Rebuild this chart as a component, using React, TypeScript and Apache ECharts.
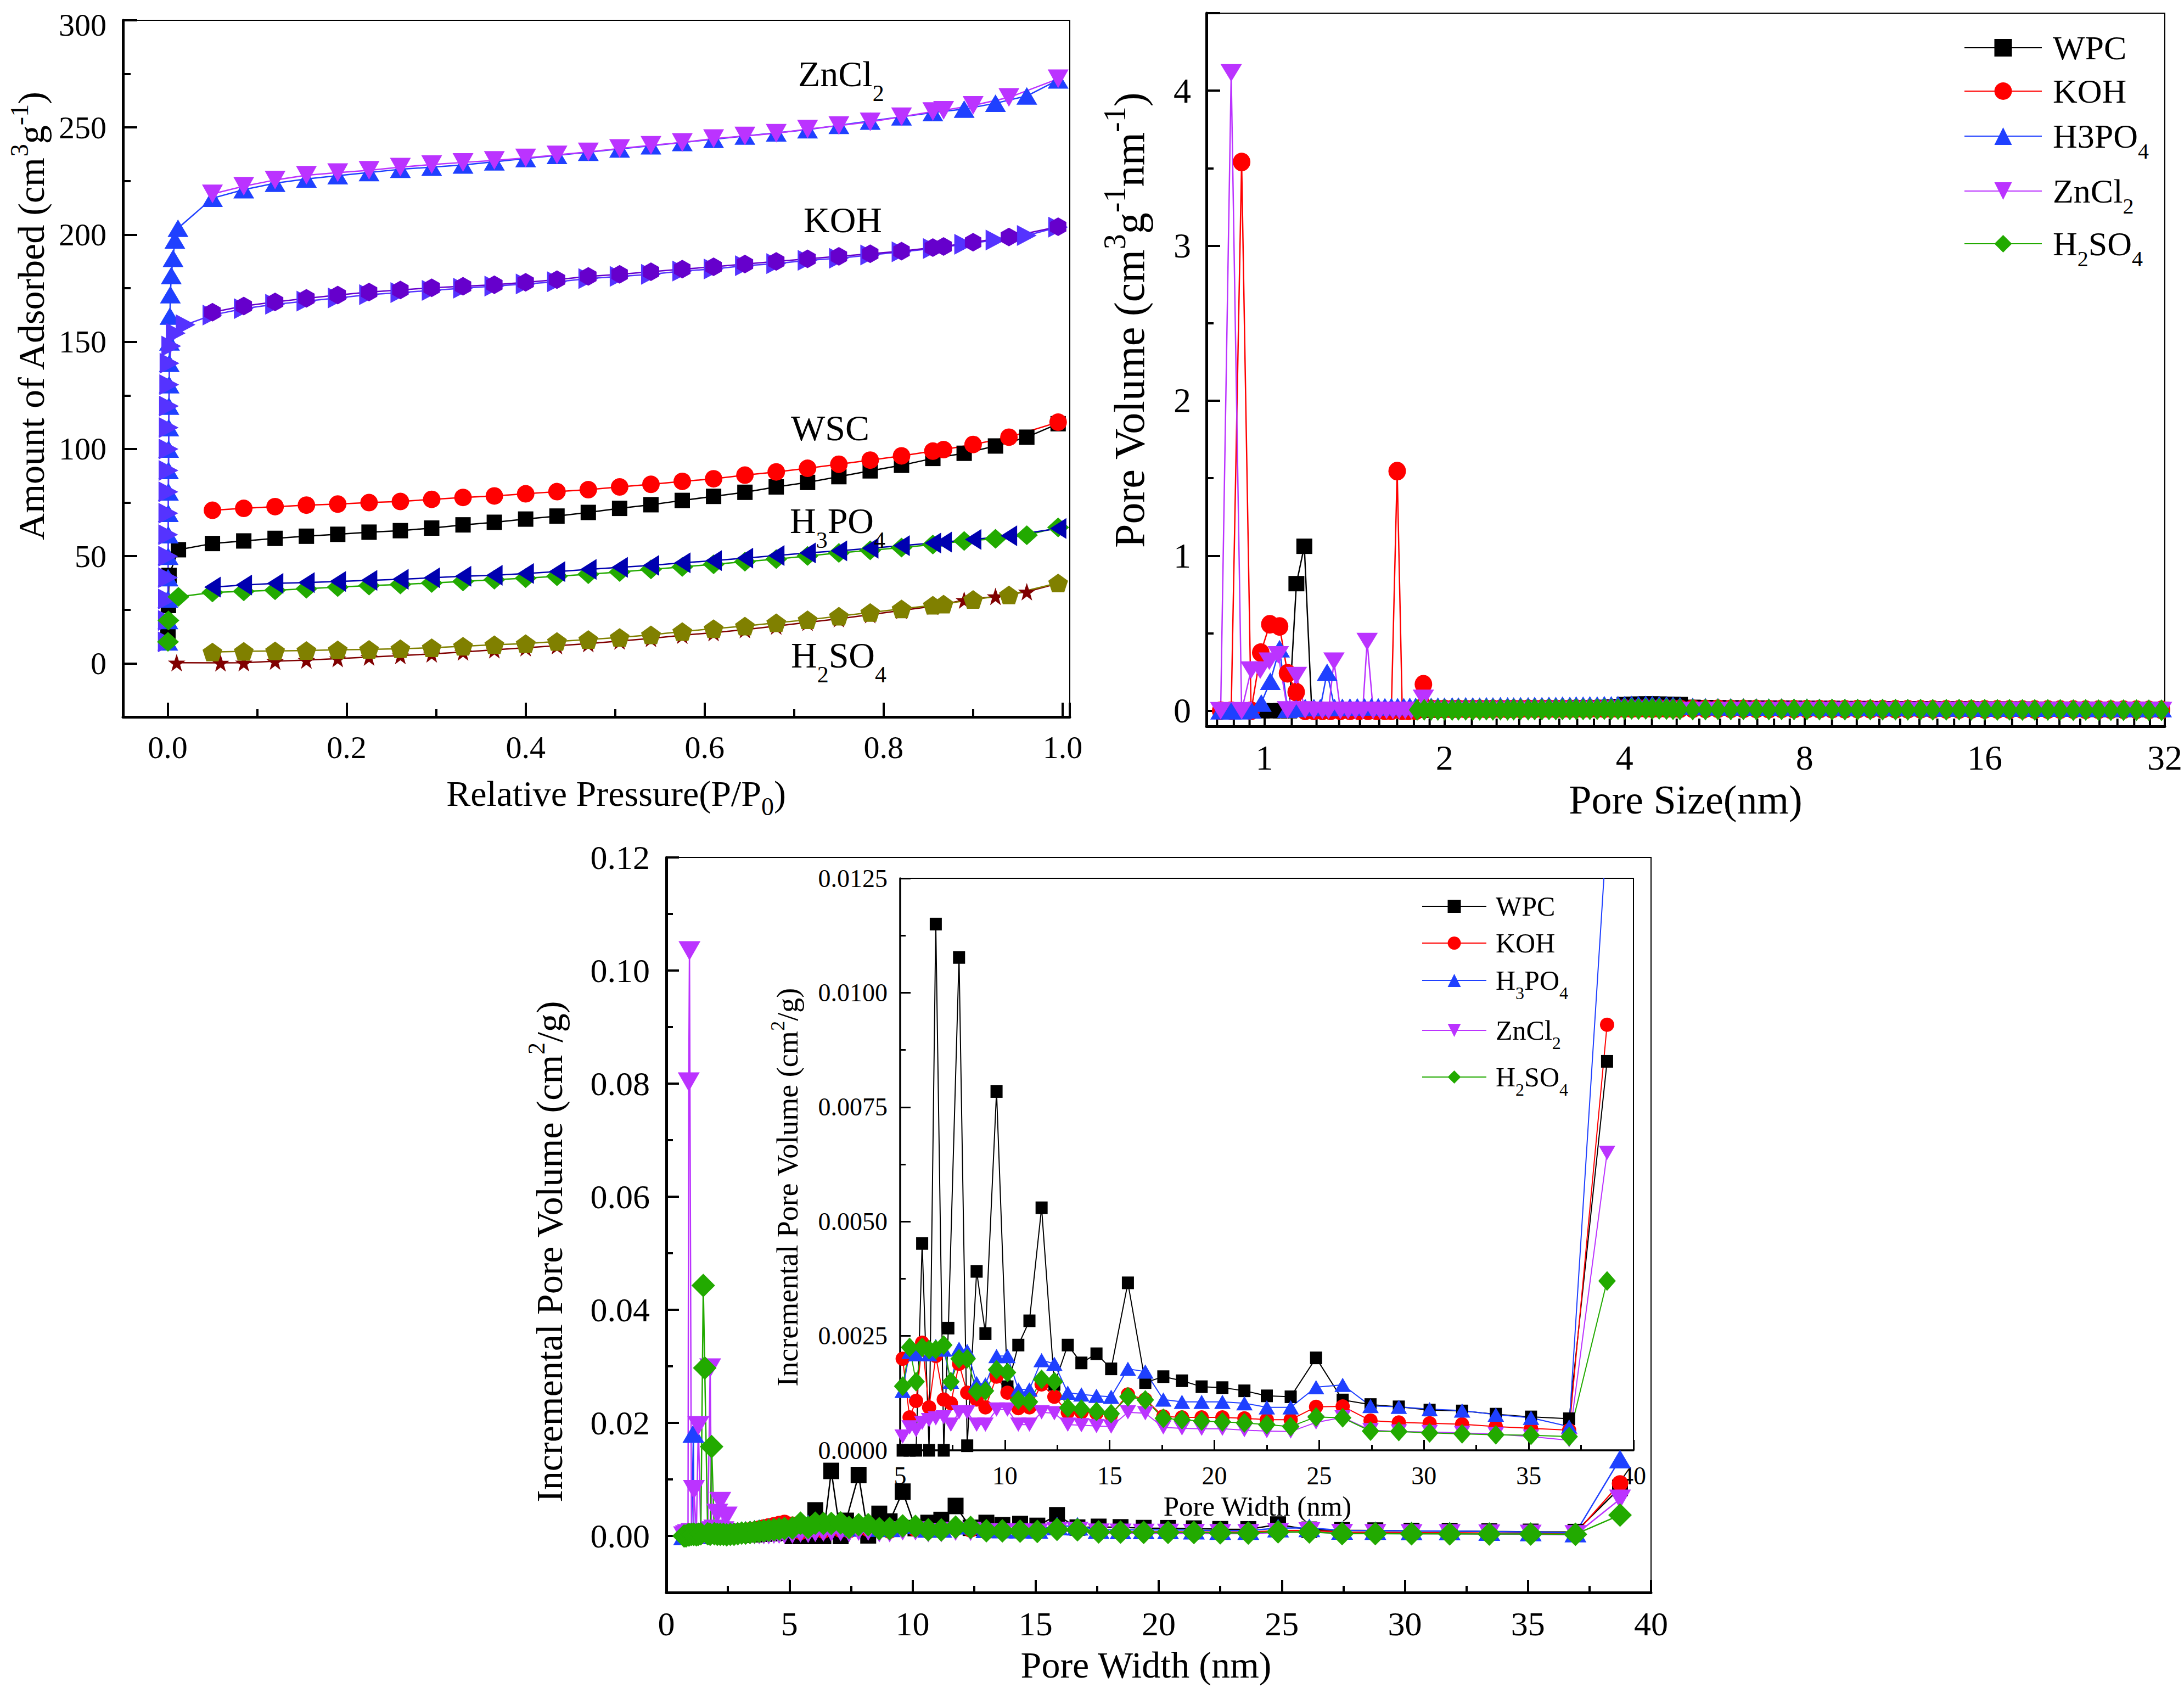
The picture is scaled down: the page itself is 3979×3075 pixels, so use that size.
import React, { useEffect, useRef } from "react";
import * as echarts from "echarts";

const FONT = '"Liberation Serif", "Times New Roman", Times, serif';

// ================= Panel 1 : N2 isotherms =================
const P_ADS = [0.05, 0.085, 0.12, 0.155, 0.19, 0.225, 0.26, 0.295, 0.33, 0.365, 0.40, 0.435, 0.47, 0.505, 0.54, 0.575, 0.61, 0.645, 0.68, 0.715, 0.75, 0.785, 0.82, 0.855, 0.89, 0.925, 0.96, 0.995];
const P_DES = [0.05, 0.085, 0.12, 0.155, 0.19, 0.225, 0.26, 0.295, 0.33, 0.365, 0.40, 0.435, 0.47, 0.505, 0.54, 0.575, 0.61, 0.645, 0.68, 0.715, 0.75, 0.785, 0.82, 0.855, 0.867, 0.90, 0.94, 0.995];
const P_STAR = [0.01, 0.059, 0.085, 0.12, 0.155, 0.19, 0.225, 0.26, 0.295, 0.33, 0.365, 0.40, 0.435, 0.47, 0.505, 0.54, 0.575, 0.61, 0.645, 0.68, 0.715, 0.75, 0.785, 0.82, 0.855, 0.89, 0.925, 0.96, 0.995];

const ZN_LOW_P = [0.0001, 0.0002, 0.0003, 0.0004, 0.0005, 0.0006, 0.0007, 0.0008, 0.0009, 0.001, 0.0012, 0.0014, 0.0016, 0.0018, 0.002, 0.0025, 0.003, 0.004, 0.006, 0.008, 0.0115];
const ZN_LOW_V = [10, 20, 30, 40, 50, 60, 70, 80, 90, 100, 110, 120, 130, 140, 150, 162, 172, 181, 189, 197.5, 203];
const KOH_LOW_P = [0.0001, 0.0002, 0.0003, 0.0004, 0.0005, 0.0006, 0.0007, 0.0008, 0.0009, 0.001, 0.0012, 0.0014, 0.0017, 0.002, 0.004, 0.009, 0.02];
const KOH_LOW_V = [10, 20, 30, 40, 50, 60, 70, 80, 90, 100, 110, 120, 130, 140, 148, 154, 158];
const WSC_LOW_P = [0.0003, 0.0008, 0.0015, 0.012];
const WSC_LOW_V = [14, 27, 41, 53];
const H3_LOW_P = [0.0003, 0.0008, 0.012];
const H3_LOW_V = [10, 20, 31];

const ZN_ADS = [217, 221, 224, 226, 227.5, 229, 230.5, 231.5, 232.5, 234, 235.5, 237, 238.5, 240, 241.5, 243, 244.5, 246, 247.5, 249, 251, 253, 255, 257, 258.6, 261.3, 264.7, 272.2];
const ZN_DES = [219, 222.6, 225.5, 227.7, 228.9, 230, 231.5, 232.7, 233.7, 234.6, 235.8, 237.2, 238.6, 240.2, 241.7, 243, 244.8, 246, 247.3, 249.2, 250.9, 252.6, 255, 257.4, 258, 260.3, 264, 272.7];
const KOH_ADS = [162.5, 165.5, 167.5, 169, 170.5, 172, 173, 174, 175, 176, 177, 178, 179.5, 180.5, 181.5, 183, 184, 185.5, 186.5, 188, 189, 190.5, 192, 193.5, 195.5, 197.5, 199.6, 203.5];
const KOH_DES = [163.8, 166.7, 168.6, 170.3, 171.8, 173.2, 174.2, 175.2, 175.9, 176.6, 177.8, 179, 180.5, 181.5, 182.7, 183.9, 185, 186.3, 187.5, 188.7, 189.9, 191.1, 192.3, 194, 194.5, 196.5, 198.9, 203.7];
const WSC_ADS = [55.9, 57.1, 58.3, 59.3, 60.2, 61.2, 61.9, 63.1, 64.6, 65.8, 67.3, 68.7, 70.4, 72.3, 74, 76, 77.9, 79.8, 82.3, 84.4, 87.1, 89.8, 92.4, 95.6, 98, 101.4, 105.5, 111.8];
const WSC_DES = [71.4, 72.3, 73.1, 73.8, 74.3, 75, 75.5, 76.5, 77.4, 78.1, 79.1, 80.1, 81, 82.3, 83.5, 84.9, 86.1, 87.8, 89.3, 91, 92.9, 94.8, 96.8, 99, 99.7, 102.1, 105.5, 112.5];
const H3_ADS = [33.1, 33.6, 34.1, 34.8, 35.6, 36.3, 36.8, 37.5, 38.2, 39, 39.7, 40.6, 41.6, 42.6, 43.8, 45, 46.2, 47.4, 48.6, 50.1, 51.5, 52.7, 54, 55.4, 57.1, 58.1, 59.8, 63.4];
const H3_DES = [35.6, 36.5, 37.3, 37.7, 38.2, 38.7, 39.2, 39.9, 40.6, 41.1, 41.9, 42.8, 43.8, 44.8, 45.7, 46.9, 47.9, 49.1, 50.3, 51.5, 52.5, 53.7, 54.9, 56.1, 56.6, 57.8, 59.5, 62.9];
const H2_ADS = [0.3, 0.2, 0.3, 1, 1.5, 2.2, 2.9, 3.6, 4.4, 5.3, 6.3, 7.3, 8.2, 9.2, 10.4, 11.6, 13.1, 14.3, 15.7, 17.4, 19.1, 20.8, 22.7, 24.7, 26.6, 29.5, 31.2, 33.4, 37.3];
const H2_DES = [5.3, 5.6, 5.8, 6, 6.3, 6.5, 6.8, 7.3, 8, 8.7, 9.2, 10.2, 11.1, 12.1, 13.3, 14.8, 16.2, 17.4, 18.9, 20.3, 22, 23.7, 25.4, 27.1, 27.6, 29.8, 31.9, 37.5];

// ================= Panel 2 : pore size distribution (log2 x) =================
const P2_TICKS = [1, 2, 4, 8, 16, 32];
const PS_TAIL = [1.90, 1.95, 2.00, 2.06, 2.11, 2.17, 2.23, 2.29, 2.35, 2.41, 2.48, 2.55, 2.61, 2.68, 2.76, 2.83, 2.91, 2.99, 3.07, 3.15, 3.24, 3.32, 3.41, 3.50, 3.60, 3.70, 3.80, 3.90, 4.00, 4.11, 4.22, 4.34, 4.45, 4.57, 4.70, 4.82, 4.95,
  5.2, 5.46, 5.73, 6.02, 6.32, 6.64, 6.97, 7.32, 7.68, 8.07, 8.47, 8.89, 9.34, 9.81, 10.3, 10.8, 11.35, 11.9, 12.5, 13.1, 13.8, 14.5, 15.2, 16.0, 16.8, 17.6, 18.5, 19.4, 20.4, 21.4, 22.5, 23.6, 24.8, 26.0, 27.3, 28.7, 30.1, 31.6];

const WPC_P2_X = [0.99, 1.03, 1.065, 1.10, 1.131, 1.166, 1.20, 1.24, 1.28, 1.33, 1.38, 1.43, 1.48, 1.54, 1.60, 1.66, 1.72, 1.78, 1.84];
const WPC_P2_Y = [0, 0, 0, 0, 0.82, 1.061, 0, 0.002, 0.002, 0.002, 0.003, 0.003, 0.003, 0.003, 0.004, 0.004, 0.004, 0.004, 0.004];
const KOH_P2_X = [0.845, 0.88, 0.916, 0.95, 0.986, 1.021, 1.06, 1.093, 1.13, 1.17, 1.21, 1.25, 1.29, 1.34, 1.39, 1.44, 1.49, 1.54, 1.59, 1.63, 1.667, 1.70, 1.74, 1.79, 1.844];
const KOH_P2_Y = [0, 0, 3.54, 0, 0.375, 0.558, 0.544, 0.242, 0.12, 0, 0, 0, 0, 0, 0, 0, 0, 0, 0, 0, 1.546, 0, 0, 0, 0.171];
const H3_P2_X = [0.845, 0.88, 0.916, 0.95, 0.988, 1.023, 1.06, 1.093, 1.13, 1.17, 1.21, 1.24, 1.273, 1.31, 1.35, 1.39, 1.43, 1.47, 1.51, 1.55, 1.59, 1.63, 1.67, 1.71, 1.75, 1.79, 1.84];
const H3_P2_Y = [0, 0, 0, 0.005, 0.05, 0.19, 0.40, 0.01, 0.015, 0.02, 0.02, 0.02, 0.248, 0.02, 0.022, 0.024, 0.025, 0.025, 0.026, 0.026, 0.026, 0.027, 0.027, 0.027, 0.028, 0.028, 0.028];
const ZN_P2_X = [0.845, 0.88, 0.916, 0.95, 0.984, 1.019, 1.055, 1.093, 1.131, 1.17, 1.21, 1.25, 1.28, 1.307, 1.34, 1.38, 1.42, 1.46, 1.485, 1.52, 1.56, 1.60, 1.64, 1.68, 1.72, 1.76, 1.80, 1.844];
const ZN_P2_Y = [0, 4.115, 0, 0.262, 0.262, 0.32, 0.36, 0.005, 0.227, 0.005, 0.002, 0.002, 0.002, 0.32, 0.002, 0.002, 0.002, 0.002, 0.446, 0.002, 0.002, 0.002, 0.002, 0.002, 0.002, 0.002, 0.002, 0.08];
const H2_P2_X = [1.80, 1.85];
const H2_P2_Y = [0.005, 0.006];

const WPC_TAIL = [0.004, 0.005, 0.005, 0.006, 0.006, 0.007, 0.007, 0.008, 0.008, 0.009, 0.009, 0.01, 0.01, 0.011, 0.011, 0.012, 0.012, 0.013, 0.014, 0.015, 0.016, 0.017, 0.018, 0.019, 0.02, 0.022, 0.024, 0.027, 0.04, 0.042, 0.043, 0.044, 0.044, 0.043, 0.042, 0.041, 0.04,
  0.022, 0.02, 0.019, 0.018, 0.018, 0.017, 0.017, 0.016, 0.016, 0.015, 0.015, 0.015, 0.014, 0.014, 0.014, 0.013, 0.013, 0.013, 0.013, 0.012, 0.012, 0.012, 0.012, 0.011, 0.011, 0.011, 0.011, 0.01, 0.01, 0.01, 0.01, 0.01, 0.009, 0.009, 0.009, 0.009, 0.008, 0.008];
const KOH_TAIL = [0.012, 0.011, 0.012, 0.011, 0.012, 0.011, 0.012, 0.012, 0.011, 0.012, 0.012, 0.011, 0.012, 0.012, 0.013, 0.012, 0.013, 0.013, 0.012, 0.013, 0.013, 0.014, 0.013, 0.014, 0.014, 0.013, 0.014, 0.014, 0.015, 0.014, 0.015, 0.015, 0.014, 0.015, 0.014, 0.014, 0.013,
  0.013, 0.012, 0.013, 0.012, 0.012, 0.012, 0.011, 0.012, 0.011, 0.011, 0.011, 0.011, 0.01, 0.011, 0.01, 0.01, 0.01, 0.01, 0.01, 0.009, 0.009, 0.009, 0.009, 0.009, 0.009, 0.008, 0.008, 0.008, 0.008, 0.008, 0.008, 0.007, 0.007, 0.007, 0.007, 0.007, 0.006, 0.006];
const H3_TAIL = [0.028, 0.03, 0.029, 0.031, 0.03, 0.032, 0.031, 0.03, 0.032, 0.031, 0.033, 0.032, 0.031, 0.033, 0.032, 0.034, 0.033, 0.035, 0.034, 0.036, 0.035, 0.037, 0.036, 0.038, 0.037, 0.039, 0.038, 0.04, 0.039, 0.041, 0.04, 0.042, 0.041, 0.04, 0.038, 0.036, 0.033,
  0.028, 0.027, 0.026, 0.026, 0.025, 0.025, 0.024, 0.024, 0.023, 0.023, 0.022, 0.022, 0.022, 0.021, 0.021, 0.021, 0.02, 0.02, 0.02, 0.019, 0.019, 0.019, 0.019, 0.018, 0.018, 0.018, 0.018, 0.017, 0.017, 0.017, 0.017, 0.016, 0.016, 0.016, 0.015, 0.015, 0.015, 0.014];
const ZN_TAIL = [0.002, 0.001, 0.002, 0.001, 0.001, 0.002, 0.001, 0.001, 0.001, 0.002, 0.001, 0.001, 0.002, 0.001, 0.001, 0.001, 0.002, 0.001, 0.001, 0.001, 0.001, 0.002, 0.001, 0.001, 0.001, 0.001, 0.002, 0.001, 0.001, 0.001, 0.001, 0.001, 0.001, 0.001, 0.001, 0.001, 0.001,
  0.001, 0.002, 0.001, 0.001, 0.002, 0.001, 0.001, 0.001, 0.002, 0.001, 0.001, 0.001, 0.002, 0.001, 0.001, 0.001, 0.001, 0.002, 0.001, 0.001, 0.001, 0.001, 0.001, 0.001, 0.002, 0.001, 0.001, 0.001, 0.001, 0.001, 0.001, 0.001, 0.001, 0.001, 0.001, 0.001, 0.001, 0.001];
const H2_TAIL = [0.006, 0.005, 0.006, 0.005, 0.006, 0.006, 0.005, 0.006, 0.007, 0.006, 0.007, 0.006, 0.007, 0.008, 0.007, 0.008, 0.008, 0.009, 0.008, 0.009, 0.009, 0.010, 0.009, 0.010, 0.010, 0.011, 0.010, 0.011, 0.011, 0.012, 0.011, 0.012, 0.012, 0.012, 0.011, 0.010, 0.009,
  0.008, 0.008, 0.009, 0.008, 0.009, 0.008, 0.008, 0.009, 0.008, 0.008, 0.007, 0.008, 0.007, 0.007, 0.008, 0.007, 0.007, 0.006, 0.007, 0.006, 0.006, 0.007, 0.006, 0.006, 0.005, 0.006, 0.005, 0.005, 0.005, 0.005, 0.004, 0.005, 0.004, 0.004, 0.004, 0.004, 0.003, 0.003];

// ================= Panel 3 : incremental pore volume =================
const LOW_X = [0.72, 0.80, 0.88, 0.91, 0.94, 1.02, 1.10, 1.12, 1.22, 1.30, 1.40, 1.50, 1.56, 1.68, 1.78, 1.84, 1.95, 2.07, 2.19, 2.32, 2.45, 2.6, 2.75, 2.9, 3.06, 3.22, 3.4, 3.58, 3.77, 3.96, 4.16, 4.37, 4.58, 4.8];
const WPC_LOW = [0, 0, 0, 0, 0, 0, 0, 0, 0, 0, 0, 0, 0, 0, 0, 0, 0, 0, 0.0001, 0.0001, 0.0001, 0.0001, 0.0002, 0.0002, 0.0002, 0.0003, 0.0003, 0.0003, 0.0004, 0.0004, 0.0005, 0.0005, 0.0006, 0.0006];
const KOH_LOW = [0, 0.0002, 0.0003, 0.0003, 0.0002, 0.0003, 0.0003, 0.0003, 0.0002, 0.0002, 0.0002, 0.0002, 0.0002, 0.0002, 0.0002, 0.0003, 0.0003, 0.0003, 0.0003, 0.0004, 0.0004, 0.0005, 0.0006, 0.0007, 0.0008, 0.0009, 0.001, 0.0011, 0.0013, 0.0015, 0.0017, 0.0019, 0.0021, 0.0023];
const H3_LOW = [0, 0.0002, 0.0003, 0.0002, 0.0002, 0.0003, 0.0181, 0.0004, 0.0003, 0.0003, 0.0002, 0.0003, 0.0003, 0.0002, 0.0003, 0.0003, 0.0003, 0.0004, 0.0004, 0.0005, 0.0005, 0.0006, 0.0007, 0.0008, 0.0009, 0.001, 0.0011, 0.0012, 0.0013, 0.0014, 0.0015, 0.0016, 0.0017, 0.0018];
const ZN_LOW = [0, 0.0002, 0.0004, 0.0803, 0.1035, 0.0006, 0.0004, 0.0082, 0.0005, 0.0195, 0.0004, 0.0003, 0.0004, 0.0006, 0.0297, 0.0009, 0.0012, 0.004, 0.0061, 0.0009, 0.0035, 0.0006, 0.0004, 0.0003, 0.0002, 0.0002, 0.0002, 0.0002, 0.0002, 0.0002, 0.0002, 0.0003, 0.0003, 0.0003];
const H2_LOW = [0, 0, 0.0002, 0.0002, 0.0002, 0.0003, 0.0003, 0.0003, 0.0002, 0.0003, 0.0004, 0.0443, 0.0297, 0.0004, 0.0003, 0.0158, 0.0004, 0.0003, 0.0003, 0.0003, 0.0002, 0.0003, 0.0003, 0.0004, 0.0005, 0.0005, 0.0006, 0.0007, 0.0008, 0.0009, 0.001, 0.0011, 0.0012, 0.0013];

const IW_X = [5.12, 5.45, 5.76, 6.05, 6.38, 6.7, 7.08, 7.42, 7.81, 8.2, 8.65, 9.07, 9.6, 10.12, 10.64, 11.17, 11.75, 12.36, 13.0, 13.65, 14.37, 15.07, 15.87, 16.7, 17.56, 18.45, 19.39, 20.38, 21.43, 22.5, 23.64, 24.85, 26.12, 27.45, 28.8, 30.27, 31.82, 33.43, 35.11, 36.93, 38.74];
const IW_X_WPC = [5.12, 5.45, 5.76, 6.05, 6.38, 6.7, 7.08, 7.3, 7.81, 8.2, 8.65, 9.07, 9.6, 10.12, 10.64, 11.17, 11.75, 12.36, 13.0, 13.65, 14.37, 15.07, 15.87, 16.7, 17.56, 18.45, 19.39, 20.38, 21.43, 22.5, 23.64, 24.85, 26.12, 27.45, 28.8, 30.27, 31.82, 33.43, 35.11, 36.93, 38.74];
const IW_WPC = [0, 0, 0, 0.00452, 0, 0.0115, 0, 0.00267, 0.01077, 0.0001, 0.00391, 0.00255, 0.00784, 0.00139, 0.0023, 0.00283, 0.0053, 0.00144, 0.0023, 0.00191, 0.00211, 0.00178, 0.00366, 0.00148, 0.00161, 0.00152, 0.00139, 0.00137, 0.0013, 0.00119, 0.00117, 0.00202, 0.0011, 0.001, 0.00095, 0.00088, 0.00086, 0.00079, 0.00073, 0.00069, 0.0085];
const IW_KOH = [0.002, 0.00072, 0.00108, 0.00235, 0.00094, 0.00206, 0.00111, 0.00103, 0.00189, 0.00126, 0.00111, 0.00094, 0.00161, 0.00126, 0.00092, 0.00094, 0.00144, 0.00117, 0.00083, 0.00083, 0.00081, 0.00078, 0.00122, 0.00111, 0.00074, 0.00072, 0.00072, 0.00072, 0.0007, 0.00067, 0.00067, 0.00095, 0.00096, 0.00065, 0.00061, 0.00059, 0.00057, 0.00052, 0.00048, 0.00044, 0.0093];
const IW_H3 = [0.0013, 0.00215, 0.0021, 0.00228, 0.0021, 0.00228, 0.0022, 0.0015, 0.00222, 0.00217, 0.00147, 0.00144, 0.00206, 0.00206, 0.00133, 0.00133, 0.00197, 0.00189, 0.00126, 0.00122, 0.00119, 0.00117, 0.00178, 0.00172, 0.00111, 0.00106, 0.00106, 0.00106, 0.00103, 0.00094, 0.00094, 0.00138, 0.00143, 0.00097, 0.00095, 0.0009, 0.00087, 0.00078, 0.00071, 0.00052, 0.0136];
const IW_ZN = [0.0003, 0.0005, 0.00044, 0.0006, 0.00066, 0.0007, 0.00072, 0.00056, 0.00083, 0.00083, 0.00056, 0.00056, 0.00089, 0.00089, 0.00056, 0.00056, 0.00083, 0.00081, 0.00056, 0.00055, 0.00053, 0.00052, 0.00083, 0.00081, 0.0005, 0.00048, 0.00047, 0.00047, 0.00044, 0.00042, 0.00041, 0.00061, 0.00072, 0.00044, 0.00041, 0.0004, 0.00038, 0.00035, 0.0003, 0.00022, 0.0065];
const IW_H2 = [0.0014, 0.00225, 0.0015, 0.00225, 0.0022, 0.0022, 0.0023, 0.0015, 0.002, 0.002, 0.00128, 0.0013, 0.00176, 0.0017, 0.0011, 0.00106, 0.00155, 0.0015, 0.00093, 0.0009, 0.00085, 0.0008, 0.00117, 0.0011, 0.0007, 0.00067, 0.00064, 0.00062, 0.0006, 0.00056, 0.00052, 0.00073, 0.00071, 0.00042, 0.00041, 0.00038, 0.00036, 0.00034, 0.00033, 0.0003, 0.0037];

const SERIES_NAMES = ["WPC", "KOH", "H3PO4", "ZnCl2", "H2SO4"];

// ---------------- styling helpers ----------------
const C = {
  black: "#000000", red: "#ff0000", blue: "#1f40ff", magenta: "#bb33ff", green: "#22aa00",
  violet: "#5533ff", purple: "#6600cc", navy: "#0000b0", maroon: "#800000", olive: "#808000",
};
const SYM_HEX = "path://M50,0 L93.3,25 L93.3,75 L50,100 L6.7,75 L6.7,25 Z";
const SYM_STAR = "path://M50,0 L61.8,35.3 L97.6,35.3 L68.8,57.1 L79.4,92.7 L50,71 L20.6,92.7 L31.2,57.1 L2.4,35.3 L38.2,35.3 Z";
const SYM_PENT = "path://M50,0 L97.6,34.5 L79.4,90.5 L20.6,90.5 L2.4,34.5 Z";

function rich(fs: number, L: number, sfs: number, off: number) {
  const h = L - 2 * off;
  return {
    m: { fontSize: fs, fontFamily: FONT, color: "#000", lineHeight: L },
    sub: { fontSize: sfs, fontFamily: FONT, color: "#000", lineHeight: L, height: h, verticalAlign: "bottom" },
    sup: { fontSize: sfs, fontFamily: FONT, color: "#000", lineHeight: L, height: h, verticalAlign: "top" },
  };
}

function line(name: string, g: number, xs: number[], ys: number[], symbol: string, size: any, color: string, width: number, rotate = 0) {
  return {
    type: "line", name, xAxisIndex: g, yAxisIndex: g,
    data: xs.map((x, i) => [x, ys[i]]),
    symbol, symbolSize: size, symbolRotate: rotate,
    showSymbol: true, showAllSymbol: true, clip: true, silent: true,
    itemStyle: { color, opacity: 1 },
    lineStyle: { color, width },
    emphasis: { disabled: true },
    animation: false,
  };
}

function valueAxis(o: any) {
  return {
    type: "value", gridIndex: o.g, min: o.min, max: o.max, interval: o.interval, splitNumber: o.split,
    axisLine: { show: true, onZero: false, lineStyle: { color: "#000", width: o.lw ?? 5 } },
    axisTick: { show: true, inside: true, length: o.tl, lineStyle: { color: "#000", width: o.tw ?? 4 } },
    minorTick: { show: o.minor !== false, splitNumber: 2, length: o.ml, lineStyle: { color: "#000", width: o.tw ?? 4 } },
    splitLine: { show: false },
    axisLabel: { fontSize: o.fs, fontFamily: FONT, color: "#000", margin: o.margin, formatter: o.fmt, lineHeight: o.lh, rich: o.lrich },
    name: o.name, nameLocation: "middle", nameGap: o.nameGap,
    nameTextStyle: { fontFamily: FONT, fontSize: o.nfs, color: "#000", rich: o.rich, padding: o.pad || [0, 0, 0, 0] },
  };
}

function buildOption() {
  const grids = [
    { left: 224, top: 22, width: 1725, height: 1284 },
    { left: 2198, top: 24, width: 1752, height: 1299 },
    { left: 1214, top: 1562, width: 1794, height: 1339 },
    { left: 1640, top: 1600, width: 1336, height: 1042 },
  ].map((g) => ({ ...g, show: true, borderColor: "#000", borderWidth: 2, backgroundColor: "transparent", containLabel: false }));

  const r1y = rich(68, 80, 46, 22);
  const r1x = rich(66, 80, 46, 24);
  const r2y = rich(78, 92, 56, 26);
  const r3y = rich(68, 80, 44, 24);
  const r4y = rich(54, 64, 36, 18);

  const xAxes = [
    valueAxis({ g: 0, min: -0.05, max: 1.008, split: 5, tl: 26, ml: 14, fs: 58, margin: 26,
      fmt: (v: number) => { const r = Math.round(v * 10) / 10; return (Math.abs(v - r) > 1e-6 || v < -1e-9 || v > 1.0001) ? "" : r.toFixed(1); },
      name: "{m|Relative Pressure(P/P}{sub|0}{m|)}", nameGap: 99, nfs: 66, rich: r1x, pad: [0, 0, 0, 72] }),
    {
      type: "log", logBase: 2, gridIndex: 1, min: 0.8, max: 32,
      axisLine: { show: true, onZero: false, lineStyle: { color: "#000", width: 5 } },
      axisTick: { show: true, inside: true, length: 25, lineStyle: { color: "#000", width: 4 } },
      minorTick: { show: false },
      splitLine: { show: false },
      axisLabel: { fontSize: 64, fontFamily: FONT, color: "#000", margin: 25,
        formatter: (v: number) => { const r = Math.round(v * 1000) / 1000; return P2_TICKS.indexOf(r) >= 0 ? String(r) : ""; } },
      name: "Pore Size(nm)", nameLocation: "middle", nameGap: 62,
      nameTextStyle: { fontFamily: FONT, fontSize: 74, color: "#000", lineHeight: 88 },
    },
    valueAxis({ g: 2, min: 0, max: 40, interval: 5, tl: 23, ml: 12, fs: 62, margin: 26, fmt: (v: number) => String(v),
      name: "Pore Width (nm)", nameGap: 98, nfs: 68, pad: [0, 46, 0, 0] }),
    valueAxis({ g: 3, min: 5, max: 40, interval: 5, tl: 19, ml: 10, fs: 46, margin: 23, lw: 3.5, tw: 3, fmt: (v: number) => String(v),
      name: "Pore Width (nm)", nameGap: 76, nfs: 51, pad: [0, 34, 0, 0] }),
  ];

  const yAxes = [
    valueAxis({ g: 0, min: -25, max: 300, split: 6, tl: 26, ml: 14, fs: 58, margin: 30, lh: 42,
      lrich: { top: { fontSize: 58, fontFamily: FONT, color: "#000", lineHeight: 42, padding: [16, 0, 0, 0] } },
      fmt: (v: number) => (v < 0 || Math.abs(v % 50) > 1e-6) ? "" : (v >= 300 ? "{top|" + v + "}" : String(v)),
      name: "{m|Amount of Adsorbed (cm}{sup|3}{m|g}{sup|-1}{m|)}", nameGap: 127, nfs: 68, rich: r1y, pad: [0, 0, 0, 190] }),
    valueAxis({ g: 1, min: -0.1, max: 4.5, split: 5, tl: 25, ml: 13, fs: 64, margin: 28, lh: 46,
      fmt: (v: number) => (v < -1e-9 || Math.abs(v - Math.round(v)) > 1e-6) ? "" : String(Math.round(v)),
      name: "{m|Pore Volume (cm}{sup|3}{m|g}{sup|-1}{m|nm}{sup|-1}{m|)}", nameGap: 95, nfs: 78, rich: r2y, pad: [0, 0, 0, 180] }),
    valueAxis({ g: 2, min: -0.01, max: 0.12, split: 6, tl: 23, ml: 12, fs: 62, margin: 30, lh: 46,
      fmt: (v: number) => (v < -1e-9 ? "" : v.toFixed(2)),
      name: "{m|Incremental Pore Volume (cm}{sup|2}{m|/g)}", nameGap: 173, nfs: 68, rich: r3y, pad: [0, 98, 0, 0] }),
    valueAxis({ g: 3, min: 0, max: 0.0125, interval: 0.0025, tl: 19, ml: 10, fs: 46, margin: 23, lw: 3.5, tw: 3, lh: 36,
      fmt: (v: number) => v.toFixed(4),
      name: "{m|Incremental Pore Volume (cm}{sup|2}{m|/g)}", nameGap: 173, nfs: 54, rich: r4y, pad: [0, 84, 0, 0] }),
  ];

  // ---------- series ----------
  const s1 = [
    line("WSC ads", 0, [...WSC_LOW_P, ...P_ADS], [...WSC_LOW_V, ...WSC_ADS], "rect", 28, C.black, 2.5),
    line("WSC des", 0, P_DES, WSC_DES, "circle", 32, C.red, 2.5),
    line("ZnCl2 ads", 0, [...ZN_LOW_P, ...P_ADS], [...ZN_LOW_V, ...ZN_ADS], "triangle", [38, 32], C.blue, 2.5),
    line("ZnCl2 des", 0, P_DES, ZN_DES, "triangle", [38, 34], C.magenta, 2.5, 180),
    line("KOH ads", 0, [...KOH_LOW_P, ...P_ADS], [...KOH_LOW_V, ...KOH_ADS], "triangle", [38, 36], C.violet, 2.5, -90),
    line("KOH des", 0, P_DES, KOH_DES, SYM_HEX, [30, 34], C.purple, 2.5),
    line("H3PO4 ads", 0, [...H3_LOW_P, ...P_ADS], [...H3_LOW_V, ...H3_ADS], "diamond", [40, 36], C.green, 2.5),
    line("H3PO4 des", 0, P_DES, H3_DES, "triangle", [38, 30], C.navy, 2.5, 90),
    line("H2SO4 ads", 0, P_STAR, H2_ADS, SYM_STAR, [32, 32], C.maroon, 2.5),
    line("H2SO4 des", 0, P_DES, H2_DES, SYM_PENT, [36, 34], C.olive, 2.5),
  ];

  const s2 = [
    line("WPC", 1, [...WPC_P2_X, ...PS_TAIL], [...WPC_P2_Y, ...WPC_TAIL], "rect", [29, 28], C.black, 2.5),
    line("KOH", 1, [...KOH_P2_X, ...PS_TAIL], [...KOH_P2_Y, ...KOH_TAIL], "circle", [32, 34], C.red, 2.5),
    line("H3PO4", 1, [...H3_P2_X, ...PS_TAIL], [...H3_P2_Y, ...H3_TAIL], "triangle", [38, 32], C.blue, 2.5),
    line("ZnCl2", 1, [...ZN_P2_X, ...PS_TAIL], [...ZN_P2_Y, ...ZN_TAIL], "triangle", [39, 32], C.magenta, 2.5, 180),
    line("H2SO4", 1, [...H2_P2_X, ...PS_TAIL], [...H2_P2_Y, ...H2_TAIL], "diamond", [30, 40], C.green, 2.5),
  ];

  // linear minor ticks inside each octave of the log2 axis (axis decoration)
  const minor: number[][] = [];
  [0.5, 1, 2, 4, 8, 16].forEach((a) => {
    for (let k = 1; k < 9; k++) { const v = a + (a * k) / 9; if (v > 0.8 && v < 32) minor.push([v, -0.1]); }
  });
  const tickSeries = {
    type: "custom", xAxisIndex: 1, yAxisIndex: 1, silent: true, clip: false, z: 3,
    data: minor,
    renderItem: (params: any, api: any) => {
      const p = api.coord([api.value(0), api.value(1)]);
      return { type: "line", shape: { x1: p[0], y1: p[1] - 2, x2: p[0], y2: p[1] - 14 }, style: { stroke: "#000", lineWidth: 4 } };
    },
  };

  const s3 = [
    line("WPC", 2, [...LOW_X, ...IW_X_WPC], [...WPC_LOW, ...IW_WPC], "rect", [29, 30], C.black, 2.5),
    line("KOH", 2, [...LOW_X, ...IW_X], [...KOH_LOW, ...IW_KOH], "circle", 30, C.red, 2.5),
    line("H3PO4", 2, [...LOW_X, ...IW_X], [...H3_LOW, ...IW_H3], "triangle", [40, 34], C.blue, 2.5),
    line("ZnCl2", 2, [...LOW_X, ...IW_X], [...ZN_LOW, ...IW_ZN], "triangle", [40, 35], C.magenta, 2.5, 180),
    line("H2SO4", 2, [...LOW_X, ...IW_X], [...H2_LOW, ...IW_H2], "diamond", [43, 43], C.green, 2.5),
  ];
  const s4 = [
    line("WPC", 3, IW_X_WPC, IW_WPC, "rect", [22, 23], C.black, 2),
    line("KOH", 3, IW_X, IW_KOH, "circle", 26, C.red, 2),
    line("H3PO4", 3, IW_X, IW_H3, "triangle", [30, 26], C.blue, 2),
    line("ZnCl2", 3, IW_X, IW_ZN, "triangle", [30, 26], C.magenta, 2, 180),
    line("H2SO4", 3, IW_X, IW_H2, "diamond", [32, 36], C.green, 2),
  ];

  // ---------- legends ----------
  const lr2 = rich(62, 74, 40, 27);
  const lr4 = rich(50, 60, 32, 23);
  const P2_LABELS: Record<string, string> = {
    WPC: "{m|WPC}", KOH: "{m|KOH}", H3PO4: "{m|H3PO}{sub|4}", ZnCl2: "{m|ZnCl}{sub|2}", H2SO4: "{m|H}{sub|2}{m|SO}{sub|4}",
  };
  const P4_LABELS: Record<string, string> = {
    WPC: "{m|WPC}", KOH: "{m|KOH}", H3PO4: "{m|H}{sub|3}{m|PO}{sub|4}", ZnCl2: "{m|ZnCl}{sub|2}", H2SO4: "{m|H}{sub|2}{m|SO}{sub|4}",
  };
  const ROWS2 = [93, 172, 254, 354, 450];
  const ROWS4 = [1656, 1723, 1791, 1882, 1967];
  const legends: any[] = [];
  SERIES_NAMES.forEach((n, i) => {
    legends.push({
      show: true, orient: "vertical", left: 3578, top: ROWS2[i] - 37, itemWidth: 141, itemHeight: 40, padding: 0,
      data: [n], selectedMode: false, formatter: () => P2_LABELS[n],
      textStyle: { fontFamily: FONT, fontSize: 62, color: "#000", rich: lr2, padding: [0, 0, 0, 15] },
    });
    legends.push({
      show: true, orient: "vertical", left: 2590, top: ROWS4[i] - 30, itemWidth: 117, itemHeight: 30, padding: 0,
      data: [n], selectedMode: false, formatter: () => P4_LABELS[n],
      textStyle: { fontFamily: FONT, fontSize: 50, color: "#000", rich: lr4, padding: [0, 0, 0, 12] },
    });
  });

  // ---------- panel 1 annotations ----------
  const ar = rich(66, 100, 42, 36);
  const notes = [
    { t: "{m|ZnCl}{sub|2}", x: 1454, y: 134 },
    { t: "{m|KOH}", x: 1464, y: 400 },
    { t: "{m|WSC}", x: 1441, y: 779 },
    { t: "{m|H}{sub|3}{m|PO}{sub|4}", x: 1439, y: 948 },
    { t: "{m|H}{sub|2}{m|SO}{sub|4}", x: 1441, y: 1193 },
  ];
  const graphic = notes.map((n) => ({
    type: "text", x: n.x, y: n.y, silent: true, z: 50,
    style: { text: n.t, rich: ar, fontSize: 66, fontFamily: FONT, fill: "#000", align: "left", verticalAlign: "middle" },
  }));

  return {
    animation: false,
    backgroundColor: "#ffffff",
    textStyle: { fontFamily: FONT },
    grid: grids,
    xAxis: xAxes,
    yAxis: yAxes,
    legend: legends,
    graphic,
    series: [...s1, ...s2, tickSeries, ...s3, ...s4],
  };
}

export default function App() {
  const ref = useRef<HTMLDivElement>(null);
  useEffect(() => {
    if (!ref.current) return;
    const chart = echarts.init(ref.current, null, { renderer: "svg" });
    chart.setOption(buildOption() as any);
    return () => chart.dispose();
  }, []);
  return (
    <div
      ref={ref}
      style={{ position: "absolute", left: 0, top: 0, width: 3979, height: 3075, background: "#fff" }}
    />
  );
}
